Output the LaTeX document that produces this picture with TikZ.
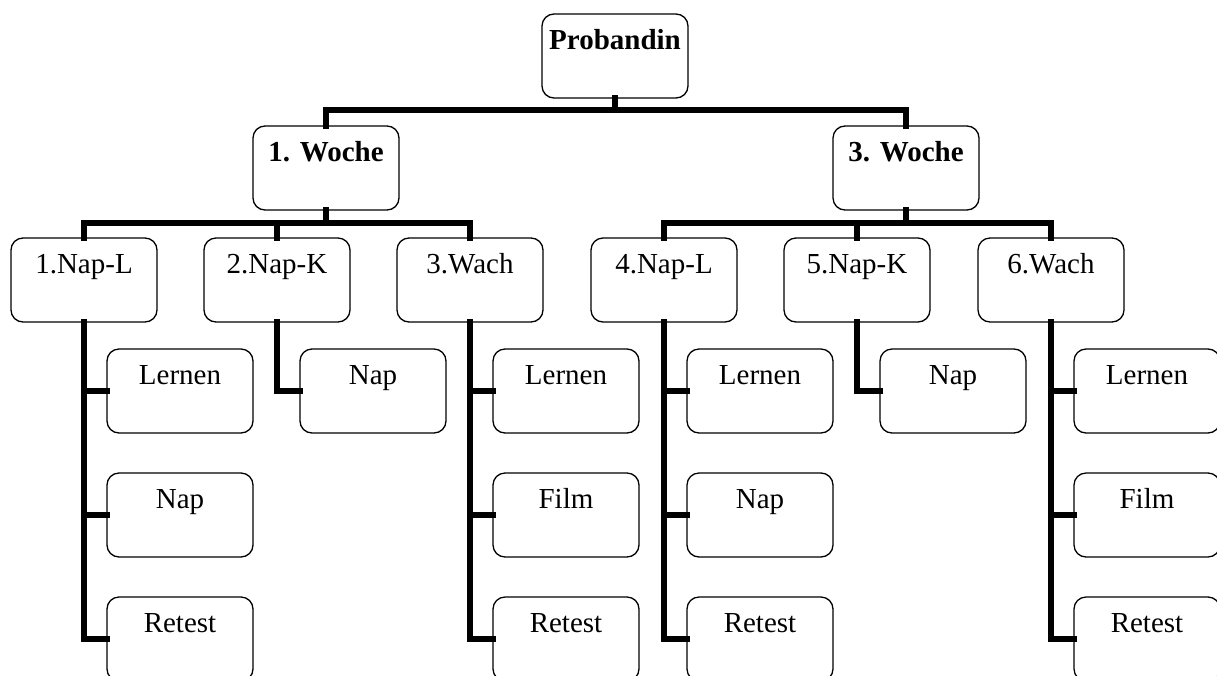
\documentclass[tikz,border=0pt]{standalone}
\usepackage{fontspec}
\setmainfont{Liberation Serif}
\frenchspacing
\begin{document}
\begin{tikzpicture}[x=1pt,y=-1pt,
  box/.style={draw, line width=1.3pt, rounded corners=12pt, inner sep=0pt,
    text width=146pt, align=center, text height=35pt, text depth=49pt,
    font=\fontsize{29}{34}\selectfont},
  bbox/.style={box, font=\fontsize{29}{34}\selectfont\bfseries},
  conn/.style={line width=6.5pt, line cap=rect, line join=miter}]
\useasboundingbox (0,0) rectangle (1217,675);
\clip (0,0) rectangle (1217,675);
% top
\node[bbox] (prob) at (615,56) {Probandin};
\node[bbox] (w1) at (326,168) {1. Woche};
\node[bbox] (w3) at (906,168) {3. Woche};
% level 2
\node[box] (n1) at (84,280) {1.Nap-L};
\node[box] (n2) at (277,280) {2.Nap-K};
\node[box] (n3) at (470,280) {3.Wach};
\node[box] (n4) at (664,280) {4.Nap-L};
\node[box] (n5) at (857,280) {5.Nap-K};
\node[box] (n6) at (1051,280) {6.Wach};
% level 3
\node[box] (a1) at (180,391) {Lernen};
\node[box] (a2) at (180,515) {Nap};
\node[box] (a3) at (180,639) {Retest};
\node[box] (b1) at (373,391) {Nap};
\node[box] (c1) at (566,391) {Lernen};
\node[box] (c2) at (566,515) {Film};
\node[box] (c3) at (566,639) {Retest};
\node[box] (d1) at (760,391) {Lernen};
\node[box] (d2) at (760,515) {Nap};
\node[box] (d3) at (760,639) {Retest};
\node[box] (e1) at (953,391) {Nap};
\node[box] (f1) at (1147,391) {Lernen};
\node[box] (f2) at (1147,515) {Film};
\node[box] (f3) at (1147,639) {Retest};
% bar coordinates
\coordinate (bar0) at (615,110);
\coordinate (bar1) at (326,223);
\coordinate (bar3) at (906,223);
% connectors
\draw[conn] (prob.south) -- (bar0);
\draw[conn] (w1.north) |- (bar0) -| (w3.north);
\draw[conn] (w1.south) -- (bar1);
\draw[conn] (n1.north) |- (bar1) -| (n3.north);
\draw[conn] (n2.north) -- (n2.north |- bar1);
\draw[conn] (w3.south) -- (bar3);
\draw[conn] (n4.north) |- (bar3) -| (n6.north);
\draw[conn] (n5.north) -- (n5.north |- bar3);
\draw[conn] (n1.south) |- (a1.west);
\draw[conn] (n1.south) |- (a2.west);
\draw[conn] (n1.south) |- (a3.west);
\draw[conn] (n2.south) |- (b1.west);
\draw[conn] (n3.south) |- (c1.west);
\draw[conn] (n3.south) |- (c2.west);
\draw[conn] (n3.south) |- (c3.west);
\draw[conn] (n4.south) |- (d1.west);
\draw[conn] (n4.south) |- (d2.west);
\draw[conn] (n4.south) |- (d3.west);
\draw[conn] (n5.south) |- (e1.west);
\draw[conn] (n6.south) |- (f1.west);
\draw[conn] (n6.south) |- (f2.west);
\draw[conn] (n6.south) |- (f3.west);
\end{tikzpicture}
\end{document}
